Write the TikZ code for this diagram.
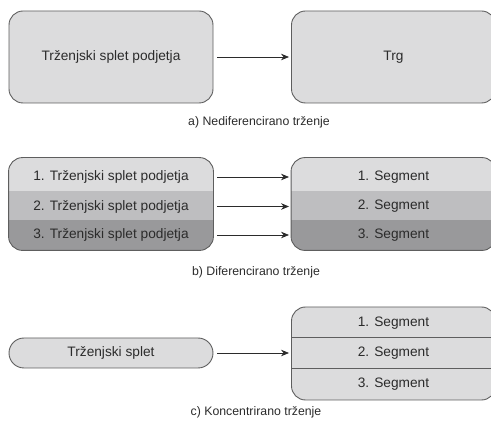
\documentclass[tikz,border=0pt]{standalone}
\usepackage{fontspec}
\setmainfont{Liberation Sans}
\usetikzlibrary{arrows.meta,calc}

\definecolor{boxfill}{HTML}{DCDCDD}
\definecolor{bandA}{HTML}{DCDCDD}
\definecolor{bandB}{HTML}{BEBEC0}
\definecolor{bandC}{HTML}{99999B}
\definecolor{edgegray}{HTML}{5E5E5E}
\definecolor{ink}{HTML}{2B2B2B}

\tikzset{
  panel/.style={draw=edgegray, line width=0.9pt, rounded corners=14pt,
    inner sep=0pt, minimum width=204pt, minimum height=92pt},
  filled/.style={fill=boxfill},
  pill/.style={draw=edgegray, line width=0.9pt, rounded corners=15pt, fill=boxfill,
    inner sep=0pt, minimum width=204pt, minimum height=30pt},
  txt/.style={text=ink, font=\fontsize{13.7}{16}\selectfont, inner sep=0pt},
  caption/.style={text=ink, font=\fontsize{12.3}{15}\selectfont, inner sep=0pt},
  arr/.style={draw=ink, line width=0.8pt, -{Stealth[length=8pt,width=6.5pt]},
    shorten <=4pt, shorten >=2pt},
  divider/.style={draw=edgegray, line width=0.9pt}
}

% three horizontal shading bands inside a rounded panel node
\newcommand{\bandfill}[1]{%
  \begin{scope}
    \clip[rounded corners=14pt] (#1.north west) rectangle (#1.south east);
    \fill[bandA] (#1.north west) rectangle ($(#1.north east)!0.36!(#1.south east)$);
    \fill[bandB] ($(#1.north west)!0.36!(#1.south west)$) rectangle ($(#1.north east)!0.675!(#1.south east)$);
    \fill[bandC] ($(#1.north west)!0.675!(#1.south west)$) rectangle (#1.south east);
  \end{scope}
  \draw[draw=edgegray, line width=0.9pt, rounded corners=14pt] (#1.north west) rectangle (#1.south east);
}

\begin{document}
\begin{tikzpicture}[x=1pt, y=-1pt]
  \useasboundingbox (0,0) rectangle (491,422);

  % a) undifferentiated marketing
  \node[panel, filled] (al) at (111,57) {};
  \node[txt] at (al.center) {Trženjski splet podjetja};
  \node[panel, filled] (ar) at (393.5,57) {};
  \node[txt] at (ar.center) {Trg};
  \draw[arr] (al.east) -- (ar.west);
  \node[caption] (capa) at (259,122) {a) Nediferencirano trženje};

  % b) differentiated marketing
  \node[panel, draw=none] (bl) at (111,204) {};
  \node[panel, draw=none] (br) at (393.5,204) {};
  \bandfill{bl}
  \bandfill{br}
  \node[txt] (bl1) at (111,177) {1. Trženjski splet podjetja};
  \node[txt] (bl2) at (111,206.5) {2. Trženjski splet podjetja};
  \node[txt] (bl3) at (111,235) {3. Trženjski splet podjetja};
  \node[txt] (br1) at (393.5,177) {1. Segment};
  \node[txt] (br2) at (393.5,206.5) {2. Segment};
  \node[txt] (br3) at (393.5,235) {3. Segment};
  \draw[arr] (bl1 -| bl.east) -- (br1 -| br.west);
  \draw[arr] (bl2 -| bl.east) -- (br2 -| br.west);
  \draw[arr] (bl3 -| bl.east) -- (br3 -| br.west);
  \node[caption] (capb) at (256,272) {b) Diferencirano trženje};

  % c) concentrated marketing
  \node[pill] (cl) at (111,353) {};
  \node[txt] at (cl.center) {Trženjski splet};
  \node[panel, filled, minimum height=93pt] (cr) at (393.5,353.5) {};
  \draw[divider] ($(cr.north west)!0.333!(cr.south west)$) -- ($(cr.north east)!0.333!(cr.south east)$);
  \draw[divider] ($(cr.north west)!0.656!(cr.south west)$) -- ($(cr.north east)!0.656!(cr.south east)$);
  \node[txt] (cr1) at (393.5,323) {1. Segment};
  \node[txt] (cr2) at (393.5,353.5) {2. Segment};
  \node[txt] (cr3) at (393.5,384) {3. Segment};
  \draw[arr] (cl.east) -- (cl.east -| cr.west);
  \node[caption] (capc) at (256,412) {c) Koncentrirano trženje};
\end{tikzpicture}
\end{document}
